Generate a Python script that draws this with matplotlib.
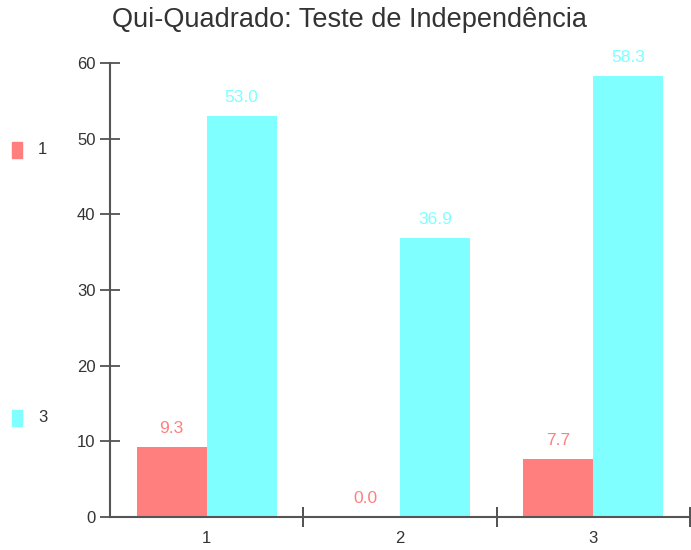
import matplotlib
matplotlib.use("Agg")
import matplotlib.pyplot as plt
from matplotlib.patches import Rectangle
import numpy as np

plt.rcParams['font.family'] = ['Liberation Sans', 'DejaVu Sans']

categories = ['1', '2', '3']
series_names = ['1', '3']
values_1 = [9.3, 0.0, 7.7]
values_3 = [53.0, 36.9, 58.3]
colors = ['#FF7F7F', '#7FFFFF']

fig = plt.figure(figsize=(6.91, 5.5), dpi=100)
ax = fig.add_axes([110 / 691, 33 / 550, 580 / 691, 454 / 550])

centers = np.arange(len(categories)) + 0.5
w = 0.362
for vals, off, col in [(values_1, -w / 2, colors[0]), (values_3, w / 2, colors[1])]:
    bars = ax.bar(centers + off, vals, width=w, color=col)
    for b, v in zip(bars, vals):
        ax.annotate(f'{v:.1f}', (b.get_x() + b.get_width() / 2, v),
                    xytext=(0, 8), textcoords='offset points',
                    ha='center', va='bottom', color=col, fontsize=12.5)

ax.set_xlim(0, 3)
ax.set_ylim(0, 60)
ax.set_yticks(range(0, 61, 10))
ax.set_xticks([1, 2, 3])
ax.set_xticklabels([])
ax.set_xticks(centers, minor=True)
ax.set_xticklabels(categories, minor=True)
ax.tick_params(axis='x', which='minor', length=0, pad=10)
ax.tick_params(axis='x', which='major', direction='inout', length=15, width=1.2, color='#333333')
ax.tick_params(axis='y', direction='inout', length=15, width=1.2, color='#444444', pad=3)
ax.tick_params(which='both', labelsize=12, labelcolor='#333333')
for side in ['top', 'right']:
    ax.spines[side].set_visible(False)
for side in ['left', 'bottom']:
    ax.spines[side].set_color('#555555')
    ax.spines[side].set_linewidth(1.5)

fig.text(350 / 691, 1 - 20 / 550, 'Qui-Quadrado: Teste de Independência',
         ha='center', va='center', fontsize=19.5, color='#333333')

# legend
for name, col, ypix in [(series_names[0], colors[0], 150), (series_names[1], colors[1], 418)]:
    fig.patches.append(Rectangle((12 / 691, 1 - (ypix + 8) / 550), 10 / 691, 16 / 550,
                                 transform=fig.transFigure, color=col))
    fig.text(38 / 691, 1 - ypix / 550, name, ha='left', va='center', fontsize=12, color='#333333')

fig.savefig('out.png', dpi=100)
